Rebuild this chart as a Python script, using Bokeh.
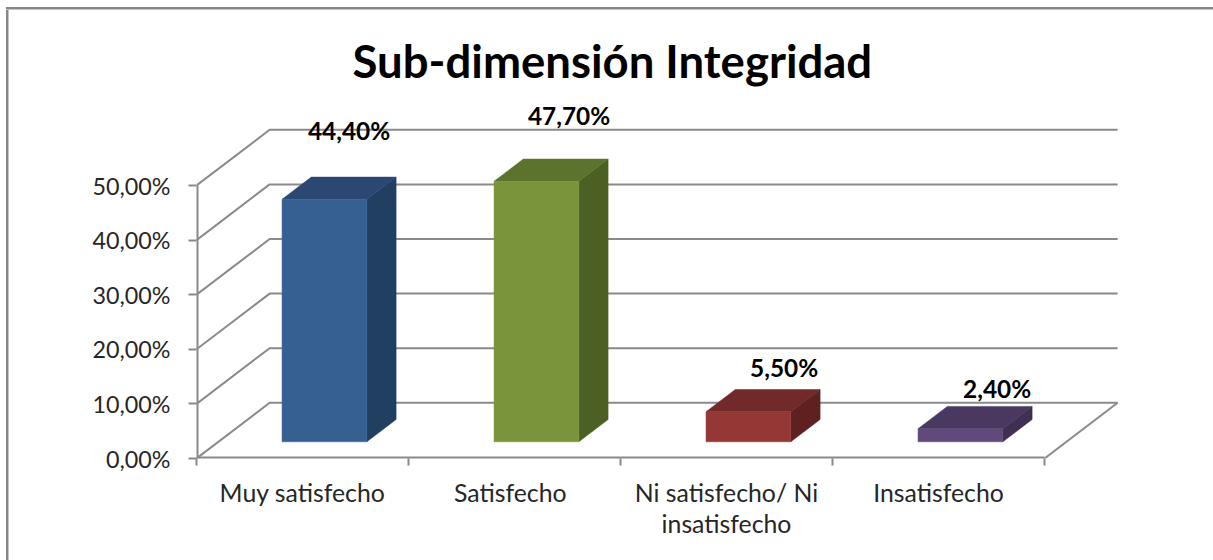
from bokeh.plotting import figure
from bokeh.models import ColumnDataSource, FixedTicker, Title
from bokeh.core.properties import value
from bokeh.embed import file_html
from bokeh.resources import INLINE

# ---- data ----
title_text = "Sub-dimensión Integridad"
categories = ["Muy satisfecho", "Satisfecho", "Ni satisfecho/ Ni\ninsatisfecho", "Insatisfecho"]
values = [44.4, 47.7, 5.5, 2.4]
value_labels = ["44,40%", "47,70%", "5,50%", "2,40%"]
y_ticks = [0, 10, 20, 30, 40, 50]
y_tick_labels = ["0,00%", "10,00%", "20,00%", "30,00%", "40,00%", "50,00%"]
front_colors = ["#376092", "#7a943c", "#953735", "#604a7b"]
top_colors = ["#2b4872", "#5c732d", "#71292a", "#49385f"]
side_colors = ["#213f60", "#4d6024", "#5f2020", "#3e2f53"]

# ---- layout / style ----
FONT = "Lato"
PX_X, PX_Y = 212.0, 5.46
FRAME_W, FRAME_H = 1017, 363
DEPTH_X, DEPTH_Y = 0.345, 10.2     # the chart floor's depth vector, in data units
BAR_W, BAR_D, BAR_D0 = 0.40, 0.40, 0.30
GRID = "#8a8a8a"
label_pos = [0.5, 1.48, 2.5, 3.5]  # category label centres
label_dx = [-47, -39, -36, -35]    # px, offset of each value label from the bar's back-right corner
label_dy = [47, 44, 22, 18]

n = len(categories)
edge = "linear-gradient(to {d}, #868686 2px, #c4c4c4 2px)"
p = figure(width=1213, height=560, frame_width=FRAME_W, frame_height=FRAME_H,
           x_range=(0, FRAME_W / PX_X), y_range=(0, FRAME_H / PX_Y),
           output_backend="svg", toolbar_location=None,
           min_border_left=196, min_border_right=0, min_border_top=95, min_border_bottom=102,
           background_fill_color="white", border_fill_alpha=0, outline_line_color=None,
           styles={"background-color": "white",
                   "background-image": edge.format(d="bottom") + "," + edge.format(d="right"),
                   "background-position": "6px 7px, 6px 7px",
                   "background-size": "100% 3px, 3px 100%",
                   "background-repeat": "no-repeat"})
p.grid.visible = False

# title
p.title = Title(text=title_text, text_font=FONT, text_font_size="45.5px", text_font_style="bold",
                text_color="#000000", align="left", offset=156, standoff=16)

# axes
xa = p.xaxis[0]
xa.ticker = FixedTicker(ticks=label_pos, minor_ticks=list(range(n + 1)))
xa.major_label_overrides = dict(zip(label_pos, categories))
xa.major_tick_out = 0
xa.major_tick_in = 0
xa.minor_tick_out = 7
xa.minor_tick_in = 0
xa.minor_tick_line_color = GRID
xa.minor_tick_line_width = 2
xa.axis_line_color = None
xa.major_label_text_font = FONT
xa.major_label_text_font_size = "24.8px"
xa.major_label_text_color = "#262626"
xa.major_label_text_line_height = 1.08
xa.major_label_standoff = 12

ya = p.yaxis[0]
ya.ticker = FixedTicker(ticks=y_ticks)
ya.major_label_overrides = dict(zip(y_ticks, y_tick_labels))
ya.major_tick_out = 8
ya.major_tick_in = 0
ya.major_tick_line_color = GRID
ya.major_tick_line_width = 2
ya.minor_tick_line_color = None
ya.axis_line_color = None
ya.major_label_text_font = FONT
ya.major_label_text_font_size = "23.3px"
ya.major_label_text_color = "#262626"
ya.major_label_standoff = 18

# axis lines (limited to the value and category extents)
p.line([0, 0], [0, y_ticks[-1]], line_color=GRID, line_width=4)
p.line([0, n], [0, 0], line_color=GRID, line_width=4)

# walls: one polyline per gridline, front edge -> back edge -> right end
grid_xs, grid_ys = [], []
for t in y_ticks:
    grid_xs.append([0, DEPTH_X, n + DEPTH_X])
    grid_ys.append([t, t + DEPTH_Y, t + DEPTH_Y])
p.multi_line(grid_xs, grid_ys, line_color=GRID, line_width=2)
p.line([n, n + DEPTH_X], [0, DEPTH_Y], line_color=GRID, line_width=2)

# bars as three faces each
fx, fy, sx, sy, tx, ty = [], [], [], [], [], []
lx, ly = [], []
for i, v in enumerate(values):
    x0 = i + 0.5 - BAR_W / 2 + BAR_D0 * DEPTH_X
    x1 = x0 + BAR_W
    y0 = BAR_D0 * DEPTH_Y
    y1 = y0 + v
    ddx, ddy = BAR_D * DEPTH_X, BAR_D * DEPTH_Y
    fx.append([x0, x1, x1, x0]); fy.append([y0, y0, y1, y1])
    sx.append([x1, x1 + ddx, x1 + ddx, x1]); sy.append([y0, y0 + ddy, y1 + ddy, y1])
    tx.append([x0, x1, x1 + ddx, x0 + ddx]); ty.append([y1, y1, y1 + ddy, y1 + ddy])
    lx.append(x1 + ddx); ly.append(y1 + ddy)

p.patches(sx, sy, fill_color=side_colors, line_color=side_colors, line_width=0.5)
p.patches(tx, ty, fill_color=top_colors, line_color=top_colors, line_width=0.5)
p.patches(fx, fy, fill_color=front_colors, line_color=front_colors, line_width=0.5)

src = ColumnDataSource(dict(x=lx, y=ly, t=value_labels, dx=label_dx, dy=[-d for d in label_dy]))
p.text("x", "y", text="t", source=src, x_offset="dx", y_offset="dy",
       text_font=value(FONT), text_font_size="24.4px", text_font_style="bold", text_color="#000000",
       text_align="center", text_baseline="middle")

open("out.html", "w").write(file_html(p, INLINE))
